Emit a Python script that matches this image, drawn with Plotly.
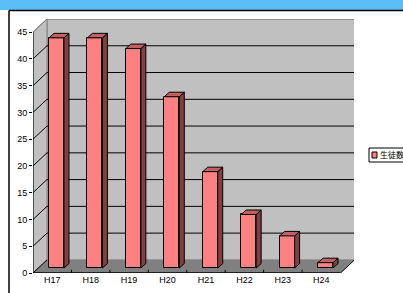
import plotly.graph_objects as go

# ---- data ----
categories = ["H17", "H18", "H19", "H20", "H21", "H22", "H23", "H24"]
students = [43, 43, 41, 32, 18, 10, 6, 1]
series_name = "生徒数"
y_ticks = [0, 5, 10, 15, 20, 25, 30, 35, 40, 45]

# ---- geometry (3D look) ----
W, H = 403, 293
ML, MR, MT, MB = 33, 49, 19, 20
YMAX = 45
DX = 0.364      # depth offset in category units
DY = 2.45       # depth offset in value units
BAR_W = 0.39
BAR_OFF = -0.084
BAR_BASE = 0.93
BDX = 0.13
BDY = 0.84
n = len(categories)
x_lo, x_hi = -0.5, n - 0.5
pw = W - ML - MR
ph = H - MT - MB
px_per_cat = (340.5 - ML) / n
x_range = [x_lo, x_lo + pw / px_per_cat]
y_range = [0, YMAX + DY]


def px_x(p):
    return (p - ML) / pw


def px_y(p):
    return (H - MB - p) / ph


xs = list(range(n))
fig = go.Figure()
fig.add_trace(go.Bar(
    x=xs, y=students, base=[BAR_BASE] * n, width=BAR_W, offset=BAR_OFF,
    marker=dict(color="#FF8080", line=dict(color="black", width=1)),
    name=series_name, showlegend=False, hoverinfo="skip",
))

shapes = []
# back wall
shapes.append(dict(type="rect", xref="x", yref="y", layer="below",
                   x0=x_lo + DX, x1=x_hi + DX, y0=DY, y1=YMAX + DY,
                   fillcolor="#C0C0C0", line=dict(color="#808080", width=1)))
# left wall
shapes.append(dict(type="path", xref="x", yref="y", layer="below",
                   path=f"M {x_lo},0 L {x_lo},{YMAX} L {x_lo+DX},{YMAX+DY} L {x_lo+DX},{DY} Z",
                   fillcolor="#C0C0C0", line=dict(color="#808080", width=1)))
# floor
shapes.append(dict(type="path", xref="x", yref="y", layer="below",
                   path=f"M {x_lo},0 L {x_hi},0 L {x_hi+DX},{DY} L {x_lo+DX},{DY} Z",
                   fillcolor="#808080", line=dict(color="#808080", width=0)))
# gridlines
for v in y_ticks:
    col = "#808080" if v == YMAX else "black"
    if v == 0:
        p = f"M {x_lo},0 L {x_lo+DX},{DY}"
        shapes.append(dict(type="path", xref="x", yref="y", layer="below",
                           path=f"M {x_hi},0 L {x_hi+DX},{DY}", line=dict(color="black", width=1)))
    else:
        p = f"M {x_lo},{v} L {x_lo+DX},{v+DY} L {x_hi+DX},{v+DY}"
    shapes.append(dict(type="path", xref="x", yref="y", layer="below",
                       path=p, line=dict(color=col, width=1)))
# axis lines
shapes.append(dict(type="line", xref="x", yref="y", layer="above",
                   x0=x_lo, x1=x_lo, y0=0, y1=YMAX, line=dict(color="black", width=1)))
shapes.append(dict(type="line", xref="x", yref="y", layer="above",
                   x0=x_lo, x1=x_hi, y0=0, y1=0, line=dict(color="black", width=1.5)))
for k in range(1, n):
    shapes.append(dict(type="line", xref="x", yref="y", layer="below",
                       x0=k - 0.5, x1=k - 0.5, y0=0, y1=0.6, line=dict(color="black", width=1)))
# bar sides and tops
for i, v in enumerate(students):
    xl = i + BAR_OFF
    xr = xl + BAR_W
    b = BAR_BASE
    t = BAR_BASE + v
    shapes.append(dict(type="path", xref="x", yref="y", layer="above",
                       path=f"M {xr},{b} L {xr+BDX},{b+BDY} L {xr+BDX},{t+BDY} L {xr},{t} Z",
                       fillcolor="#804040", line=dict(color="black", width=1)))
    shapes.append(dict(type="path", xref="x", yref="y", layer="above",
                       path=f"M {xl},{t} L {xl+BDX},{t+BDY} L {xr+BDX},{t+BDY} L {xr},{t} Z",
                       fillcolor="#C06060", line=dict(color="black", width=1)))

# page decoration: blue band and frame
shapes.append(dict(type="rect", xref="paper", yref="paper", layer="above",
                   x0=px_x(-5), x1=px_x(W + 5), y0=px_y(10), y1=px_y(-5),
                   fillcolor="#5CBEF6", line=dict(width=0)))
shapes.append(dict(type="line", xref="paper", yref="paper", layer="above",
                   x0=px_x(9), x1=px_x(W + 5), y0=px_y(10.5), y1=px_y(10.5),
                   line=dict(color="black", width=1.5)))
shapes.append(dict(type="line", xref="paper", yref="paper", layer="above",
                   x0=px_x(9), x1=px_x(9), y0=px_y(10.5), y1=px_y(H + 5),
                   line=dict(color="black", width=1.5)))
# legend box
shapes.append(dict(type="rect", xref="paper", yref="paper", layer="above",
                   x0=px_x(369), x1=px_x(W + 10), y0=px_y(162), y1=px_y(148),
                   fillcolor="white", line=dict(color="black", width=1)))
shapes.append(dict(type="rect", xref="paper", yref="paper", layer="above",
                   x0=px_x(372), x1=px_x(377), y0=px_y(158), y1=px_y(152),
                   fillcolor="#FF8080", line=dict(color="black", width=1)))

annotations = [dict(xref="paper", yref="paper", x=px_x(378), y=px_y(155),
                    xanchor="left", yanchor="middle", showarrow=False,
                    text=series_name,
                    font=dict(family="Noto Sans CJK JP", size=8, color="black"))]

fig.update_layout(
    width=W, height=H,
    margin=dict(l=ML, r=MR, t=MT, b=MB, autoexpand=False),
    paper_bgcolor="white", plot_bgcolor="white",
    shapes=shapes, annotations=annotations, showlegend=False,
    bargap=0,
    xaxis=dict(range=x_range, tickvals=xs, ticktext=categories, showgrid=False,
               zeroline=False, showline=False, ticks="",
               tickfont=dict(family="Liberation Sans Narrow, Arial Narrow, Liberation Sans", size=9, color="black")),
    yaxis=dict(range=y_range, tickvals=y_ticks, showgrid=False, zeroline=False,
               showline=False, ticks="outside", ticklen=3, tickcolor="black",
               tickfont=dict(family="Liberation Sans Narrow, Arial Narrow, Liberation Sans", size=9, color="black")),
)

fig.write_html("out.html", config={"displayModeBar": False},
               post_script="document.body.style.margin='0';document.body.style.overflow='hidden';")
